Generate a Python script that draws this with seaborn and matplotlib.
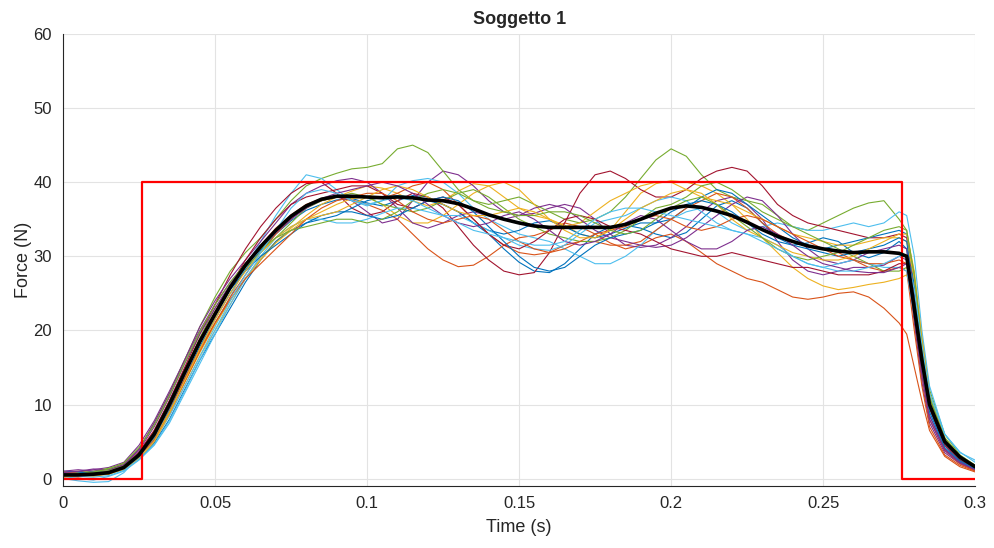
import matplotlib
matplotlib.use("Agg")
import matplotlib.pyplot as plt
import numpy as np
import pandas as pd
import seaborn as sns

# sample times (s): 5 ms steps, denser around the release
TIME = [0.0, 0.005, 0.01, 0.015, 0.02, 0.025, 0.03, 0.035, 0.04, 0.045,
        0.05, 0.055, 0.06, 0.065, 0.07, 0.075, 0.08,
        0.085, 0.09, 0.095, 0.1, 0.105, 0.11, 0.115, 0.12, 0.125, 0.13,
        0.135, 0.14, 0.145, 0.15, 0.155, 0.16, 0.165, 0.17, 0.175, 0.18,
        0.185, 0.19, 0.195, 0.2, 0.205, 0.21, 0.215, 0.22, 0.225, 0.23,
        0.235, 0.24, 0.245, 0.25, 0.255, 0.26, 0.265, 0.27, 0.275,
        0.2775, 0.28, 0.2825, 0.285, 0.29, 0.295, 0.3]

TRIALS = [
    [0.8, 0.6, 0.4, 0.7, 1.4, 3.0, 5.4, 9.2, 13.5, 17.8, 21.5, 25.0, 28.2, 30.8, 33.0, 34.8, 36.2,
     37.0, 37.6, 37.8, 37.2, 36.8, 37.5, 38.2, 38.0, 37.0, 36.0,
     34.5, 33.0, 31.0, 29.2, 28.0, 27.8, 29.0, 31.0, 33.0, 34.0,
     34.2, 33.8, 33.0, 32.5, 33.2, 35.0, 36.8, 37.5, 36.5, 34.5,
     32.5, 31.5, 31.8, 32.5, 32.0, 30.5, 29.8, 30.5, 32.0,
     31.0, 22.0, 14.0, 8.5, 4.0, 2.2, 1.2],
    [0.3, 0.2, 0.5, 0.6, 1.6, 3.5, 6.5, 10.5, 14.8, 18.8, 22.5, 26.0, 29.0, 31.5, 33.8, 35.6, 37.0,
     37.8, 38.0, 37.6, 37.0, 36.2, 35.0, 33.0, 31.0, 29.5, 28.6,
     28.8, 30.0, 31.5, 32.5, 32.8, 33.5, 34.5, 34.0, 33.0, 31.8,
     31.0, 31.5, 32.5, 33.0, 32.0, 30.5, 29.0, 28.0, 27.0, 26.5,
     25.5, 24.5, 24.2, 24.5, 25.0, 25.2, 24.5, 23.0, 21.0,
     19.5, 15.0, 10.5, 6.5, 3.0, 1.6, 0.9],
    [0.9, 1.0, 0.8, 0.9, 1.3, 2.8, 5.0, 8.5, 12.5, 16.5, 20.0, 23.5, 27.0, 29.8, 32.0, 33.8, 35.5,
     37.0, 38.0, 38.8, 39.5, 39.2, 38.5, 37.5, 36.8, 37.5, 38.8,
     39.8, 39.5, 38.0, 36.5, 35.5, 35.0, 34.2, 33.0, 32.5, 33.5,
     36.0, 38.5, 39.8, 40.2, 40.0, 39.5, 38.5, 37.0, 35.0, 32.5,
     30.5, 28.5, 27.0, 26.0, 25.5, 25.8, 26.2, 26.5, 27.0,
     27.5, 24.0, 17.5, 11.5, 5.5, 3.0, 1.8],
    [0.6, 0.9, 1.2, 1.5, 2.2, 4.5, 7.8, 11.8, 16.0, 20.0, 23.5, 26.5, 29.0, 31.5, 33.5, 35.2, 36.5,
     37.5, 38.0, 37.5, 36.0, 34.5, 35.0, 37.5, 40.0, 41.5, 41.0,
     39.5, 37.5, 36.0, 35.5, 35.8, 36.5, 37.0, 36.5, 35.0, 33.0,
     31.5, 31.2, 31.5, 32.5, 34.0, 36.0, 37.5, 38.0, 37.0, 35.0,
     32.0, 29.5, 28.0, 27.5, 28.0, 28.5, 28.5, 28.8, 30.0,
     29.5, 21.0, 13.0, 7.5, 3.5, 2.0, 1.1],
    [0.7, 0.8, 1.0, 1.4, 2.0, 4.0, 7.5, 11.5, 16.0, 20.5, 24.5, 28.0, 30.5, 32.5, 35.0, 37.5, 39.5,
     40.5, 41.2, 41.8, 42.0, 42.5, 44.5, 45.0, 44.0, 41.5, 39.0,
     37.5, 37.0, 37.5, 38.0, 37.0, 36.0, 35.0, 34.5, 35.0, 36.0,
     38.0, 40.5, 43.0, 44.5, 43.5, 41.0, 39.0, 38.0, 37.5, 37.0,
     35.5, 34.0, 33.5, 34.5, 35.5, 36.5, 37.2, 37.5, 35.0,
     33.5, 27.0, 19.0, 12.0, 6.0, 3.2, 1.8],
    [0.0, -0.3, -0.5, -0.4, 0.8, 3.0, 5.2, 8.5, 12.5, 16.5, 20.5, 24.5, 28.5, 32.0, 35.5, 38.5, 41.0,
     40.5, 39.0, 37.5, 36.8, 37.5, 39.5, 40.2, 40.5, 40.0, 38.5,
     36.5, 35.0, 34.0, 33.0, 32.5, 32.0, 31.0, 30.0, 29.0, 29.0,
     30.0, 31.5, 33.5, 35.0, 36.0, 36.5, 36.0, 34.5, 33.5, 34.0,
     34.5, 34.0, 33.5, 33.5, 34.0, 34.5, 34.0, 34.5, 36.0,
     35.5, 30.0, 20.0, 12.5, 6.0, 3.5, 2.5],
    [0.2, 0.5, 0.7, 1.0, 1.7, 3.6, 6.5, 10.5, 15.0, 19.5, 23.5, 27.5, 31.0, 34.0, 36.5, 38.5, 39.8,
     40.0, 38.5, 36.5, 35.5, 36.0, 37.5, 38.5, 38.0, 36.5, 34.0,
     31.5, 29.5, 28.0, 27.5, 27.8, 30.5, 34.5, 38.5, 41.0, 41.5,
     40.5, 39.0, 38.0, 38.0, 39.0, 40.5, 41.5, 42.0, 41.5, 39.5,
     37.0, 35.5, 34.5, 34.0, 33.5, 33.0, 32.5, 32.5, 33.0,
     32.5, 25.0, 16.0, 9.5, 4.5, 2.5, 1.3],
    [1.0, 0.9, 0.7, 0.8, 1.2, 2.6, 4.8, 8.0, 12.0, 16.0, 19.5, 23.0, 26.5, 29.5, 32.0, 33.5, 34.5,
     35.0, 35.5, 36.5, 37.5, 38.0, 38.2, 38.0, 37.5, 37.0, 36.0,
     34.5, 33.5, 33.0, 33.5, 34.5, 34.8, 34.0, 33.0, 32.5, 33.0,
     33.8, 34.5, 34.5, 35.0, 36.5, 38.0, 39.0, 38.5, 37.0, 35.5,
     34.0, 32.5, 31.5, 31.0, 31.5, 32.0, 32.5, 33.0, 33.5,
     33.0, 26.0, 17.0, 10.0, 4.8, 2.6, 1.4],
    [0.4, 0.6, 0.5, 0.6, 1.4, 3.2, 5.8, 9.5, 13.5, 17.5, 21.0, 24.5, 27.5, 30.5, 33.0, 35.0, 36.8,
     37.5, 38.0, 38.2, 38.0, 37.8, 38.5, 39.5, 40.0, 39.0, 37.0,
     35.0, 33.0, 31.5, 30.5, 30.2, 30.5, 31.5, 32.0, 32.0, 31.5,
     31.5, 32.0, 33.5, 35.0, 36.5, 37.5, 38.5, 38.0, 36.5, 34.5,
     33.0, 32.0, 31.5, 31.0, 30.5, 29.5, 28.5, 28.0, 28.5,
     28.0, 20.0, 12.5, 7.0, 3.2, 1.8, 1.0],
    [0.5, 0.4, 0.6, 0.8, 1.5, 3.0, 5.5, 9.0, 13.0, 17.0, 20.8, 24.0, 27.0, 29.5, 31.8, 33.5, 35.0,
     36.0, 37.0, 37.8, 38.0, 37.0, 35.5, 34.5, 34.5, 35.5, 37.0,
     38.5, 39.5, 40.0, 39.0, 37.0, 35.0, 34.0, 34.5, 36.0, 37.5,
     38.5, 39.5, 40.0, 40.0, 39.0, 38.0, 37.5, 37.0, 36.0, 35.0,
     34.0, 33.0, 32.5, 32.0, 31.5, 31.5, 32.0, 32.5, 32.5,
     32.0, 27.0, 18.5, 11.0, 5.0, 2.8, 1.5],
    [1.0, 1.2, 1.0, 1.2, 1.8, 4.0, 7.5, 11.5, 16.0, 20.5, 24.0, 27.0, 29.5, 32.0, 34.5, 37.0, 38.5,
     39.5, 40.2, 40.5, 40.0, 38.5, 36.5, 34.5, 33.8, 34.5, 35.5,
     36.0, 35.5, 35.0, 35.5, 36.5, 37.0, 36.5, 35.0, 33.5, 32.5,
     32.0, 31.5, 31.2, 31.5, 32.5, 34.0, 35.5, 37.0, 38.0, 37.5,
     35.5, 33.0, 31.0, 29.5, 29.0, 29.5, 30.5, 31.0, 31.5,
     31.0, 23.0, 14.5, 8.5, 4.0, 2.3, 1.2],
    [0.6, 0.5, 0.8, 1.1, 1.8, 3.4, 6.0, 10.0, 14.5, 19.0, 23.0, 26.0, 28.5, 30.5, 32.5, 34.5, 36.5,
     37.5, 38.0, 38.5, 38.0, 37.0, 36.5, 36.0, 36.5, 37.5, 38.5,
     39.0, 38.0, 36.5, 35.0, 34.0, 33.0, 32.5, 32.0, 32.0, 32.5,
     33.5, 35.0, 36.5, 37.0, 38.0, 39.5, 40.0, 39.0, 37.5, 36.0,
     35.0, 34.0, 33.0, 32.0, 31.0, 30.0, 29.0, 28.0, 28.0,
     28.5, 24.0, 17.5, 11.0, 5.5, 3.0, 1.7],
    [0.3, 0.0, -0.2, 0.3, 1.0, 2.5, 4.5, 7.5, 11.5, 15.5, 19.5, 23.5, 27.0, 30.0, 32.5, 34.0, 35.0,
     35.0, 34.5, 34.5, 35.0, 35.8, 36.5, 36.5, 36.0, 35.5, 35.5,
     34.5, 33.5, 32.5, 31.5, 31.0, 30.8, 31.5, 33.0, 34.5, 35.0,
     35.5, 36.5, 37.5, 38.0, 37.5, 36.0, 34.5, 33.5, 33.0, 32.5,
     31.5, 30.0, 29.0, 28.5, 29.0, 29.5, 29.0, 28.5, 28.5,
     28.0, 22.0, 15.0, 9.0, 4.5, 2.5, 1.5],
    [0.4, 0.3, 0.5, 0.9, 1.6, 3.3, 6.2, 10.2, 14.5, 18.8, 22.5, 26.0, 29.5, 32.5, 35.0, 37.0, 38.0,
     38.5, 39.0, 39.5, 39.5, 38.5, 37.0, 36.5, 37.5, 38.0, 37.0,
     35.0, 33.0, 31.5, 31.0, 32.0, 33.5, 35.0, 35.5, 35.0, 34.0,
     33.5, 33.0, 32.0, 31.0, 30.5, 30.0, 30.0, 30.5, 30.0, 29.5,
     29.0, 28.5, 28.5, 28.0, 27.5, 27.5, 27.5, 28.0, 29.0,
     29.0, 23.0, 15.5, 9.5, 4.5, 2.5, 1.5],
    [0.5, 0.7, 0.9, 0.8, 1.3, 2.9, 5.6, 9.6, 14.0, 18.2, 22.0, 25.5, 28.0, 30.0, 31.5, 33.0, 34.5,
     35.5, 36.0, 36.0, 35.5, 35.0, 35.5, 36.5, 37.5, 38.0, 37.5,
     36.0, 34.0, 32.0, 30.0, 28.5, 28.0, 28.5, 30.0, 31.5, 32.5,
     33.0, 33.5, 34.5, 36.0, 37.0, 37.5, 37.0, 36.0, 34.5, 33.0,
     32.0, 31.5, 31.0, 30.5, 30.0, 30.5, 31.0, 31.5, 32.5,
     32.0, 24.0, 15.0, 9.0, 4.2, 2.4, 1.3],
    [0.9, 0.7, 0.6, 0.9, 1.5, 3.1, 5.2, 8.8, 13.0, 17.2, 21.0, 24.2, 27.0, 29.0, 31.0, 33.0, 35.0,
     36.5, 37.5, 38.0, 38.5, 38.5, 37.5, 36.0, 35.0, 34.5, 35.0,
     35.5, 35.0, 33.5, 32.0, 31.0, 30.5, 31.0, 32.0, 33.0, 33.5,
     34.0, 35.0, 35.5, 35.0, 34.0, 33.5, 34.0, 35.0, 35.5, 35.0,
     34.0, 33.0, 32.0, 31.0, 30.0, 29.5, 29.0, 29.0, 29.5,
     29.0, 22.5, 14.0, 8.0, 3.8, 2.0, 1.1],
    [0.2, 0.4, 0.3, 0.6, 1.2, 2.7, 5.0, 8.8, 13.2, 17.5, 21.5, 25.0, 28.0, 30.5, 32.5, 34.0, 35.0,
     35.5, 36.0, 37.0, 38.0, 39.0, 39.5, 39.0, 38.0, 37.0, 36.0,
     35.5, 35.5, 36.0, 36.5, 36.0, 35.0, 33.5, 32.5, 32.5, 33.5,
     35.0, 36.5, 37.5, 38.5, 39.0, 38.5, 37.0, 35.0, 33.5, 32.5,
     31.5, 30.5, 30.0, 29.5, 29.5, 30.0, 31.0, 32.0, 33.0,
     33.0, 28.0, 19.0, 11.5, 5.2, 2.9, 1.6],
    [0.8, 1.0, 1.3, 1.2, 1.9, 3.8, 7.0, 11.0, 15.5, 19.5, 23.0, 26.2, 29.0, 31.2, 33.2, 35.0, 36.5,
     37.8, 38.5, 39.0, 39.5, 40.0, 39.5, 38.5, 37.0, 35.5, 34.5,
     34.0, 34.5, 35.5, 36.0, 35.0, 33.5, 32.0, 31.5, 32.0, 33.0,
     34.5, 35.5, 35.0, 33.5, 32.0, 31.0, 31.0, 32.0, 33.5, 34.0,
     33.0, 31.5, 30.0, 29.0, 28.5, 28.0, 27.8, 27.8, 28.5,
     29.0, 22.0, 14.0, 8.0, 3.8, 2.1, 1.2],
    [0.4, 0.6, 0.9, 1.3, 2.1, 4.2, 7.2, 11.2, 15.6, 19.8, 23.5, 26.5, 29.0, 31.0, 32.5, 33.5, 34.0,
     34.5, 35.0, 35.0, 34.5, 35.0, 36.0, 37.5, 38.5, 39.0, 38.5,
     37.5, 36.5, 36.0, 35.5, 35.5, 36.0, 36.0, 35.5, 34.5, 33.5,
     33.0, 33.5, 35.0, 36.5, 37.5, 38.0, 37.0, 35.5, 34.0, 32.5,
     31.0, 30.0, 29.5, 30.0, 30.5, 31.5, 32.5, 33.5, 34.0,
     33.5, 27.5, 18.0, 11.0, 5.5, 3.1, 1.8],
    [0.6, 0.3, 0.2, 0.4, 1.1, 2.6, 4.6, 7.8, 11.8, 16.0, 20.0, 24.0, 27.5, 30.5, 33.5, 36.5, 38.5,
     39.0, 38.5, 37.5, 37.0, 37.5, 38.0, 37.5, 36.5, 35.5, 34.5,
     33.5, 33.0, 32.5, 32.0, 31.5, 31.5, 32.0, 33.5, 35.0, 36.0,
     36.5, 36.5, 36.0, 35.5, 35.0, 34.5, 34.0, 33.5, 33.0, 32.0,
     31.0, 30.0, 29.0, 28.5, 28.0, 28.0, 28.5, 29.0, 30.0,
     30.0, 25.5, 18.0, 11.5, 6.0, 3.6, 2.2],
]

MEAN_FORCE = [0.5, 0.5, 0.6, 0.8, 1.5, 3.2, 6.0, 10.0, 14.3, 18.5, 22.2, 25.8, 28.8, 31.3, 33.5, 35.4, 36.8,
              37.7, 38.1, 38.1, 38.0, 37.9, 38.0, 37.9, 37.6, 37.5, 37.1,
              36.4, 35.6, 35.0, 34.5, 34.1, 33.9, 33.9, 33.9, 33.9, 33.9,
              34.3, 35.0, 35.8, 36.5, 36.8, 36.6, 36.1, 35.5, 34.6, 33.6,
              32.7, 32.0, 31.4, 31.0, 30.7, 30.5, 30.6, 30.6, 30.4,
              30.0, 23.0, 16.0, 10.0, 5.0, 2.9, 1.6]

# target force profile (step on / step off)
STIM_TIME = [0.0, 0.026, 0.276, 0.3]
STIM_FORCE = [0.0, 40.0, 0.0, 0.0]

MATLAB_COLORS = ["#0072BD", "#D95319", "#EDB120", "#7E2F8E", "#77AC30", "#4DBEEE", "#A2142F"]


def main() -> None:
    sns.set_theme(style="whitegrid")
    plt.rcParams["font.family"] = ["Liberation Sans", "DejaVu Sans"]

    trials = pd.DataFrame(
        [(i, t, f) for i, trial in enumerate(TRIALS) for t, f in zip(TIME, trial)],
        columns=["trial", "time", "force"],
    )
    palette = [MATLAB_COLORS[i % len(MATLAB_COLORS)] for i in range(len(TRIALS))]

    fig = plt.figure(figsize=(9.94, 5.48), dpi=100)
    ax = fig.add_axes([0.0634, 0.1131, 0.9176, 0.8249])

    sns.lineplot(data=trials, x="time", y="force", hue="trial", palette=palette,
                 estimator=None, linewidth=0.8, legend=False, ax=ax)
    ax.step(STIM_TIME, STIM_FORCE, where="post", color="#FF0000", linewidth=1.6)
    sns.lineplot(x=TIME, y=MEAN_FORCE, color="black", linewidth=2.6, ax=ax)

    ax.set_xlim(0, 0.3)
    ax.set_ylim(-1, 60)
    ax.set_xticks(np.arange(0, 0.31, 0.05))
    ax.set_xticklabels(["0", "0.05", "0.1", "0.15", "0.2", "0.25", "0.3"])
    ax.set_yticks(np.arange(0, 61, 10))
    ax.set_facecolor("white")
    ax.grid(True, color="#e3e3e3", linewidth=0.8)
    for side in ["top", "right"]:
        ax.spines[side].set_visible(False)
    for side in ["left", "bottom"]:
        ax.spines[side].set_color("#262626")
        ax.spines[side].set_linewidth(0.8)
    ax.tick_params(direction="in", length=5, width=0.8, color="#262626",
                   labelsize=12, labelcolor="#262626", pad=8)
    ax.tick_params(axis="x", pad=7)
    ax.set_xlabel("Time (s)", fontsize=13, color="#262626", labelpad=6)
    ax.set_ylabel("Force (N)", fontsize=13, color="#262626", labelpad=1)
    ax.set_title("Soggetto 1", fontsize=13, fontweight="bold", pad=7)

    fig.savefig("out.png", dpi=100)
    plt.close(fig)


if __name__ == "__main__":
    main()
